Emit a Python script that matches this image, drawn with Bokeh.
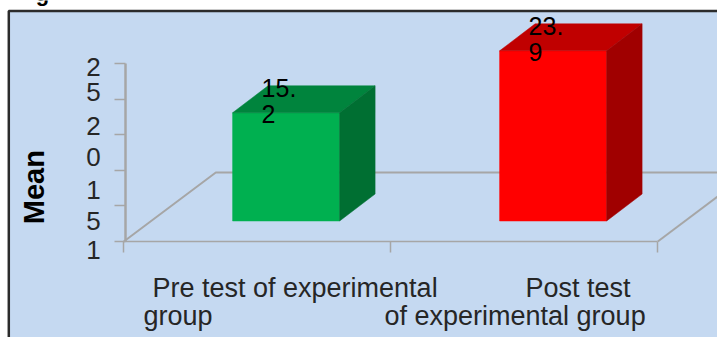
from bokeh.plotting import figure
from bokeh.models import LinearAxis, FixedTicker, Range1d, BoxAnnotation
from bokeh.core.properties import value
from bokeh.embed import file_html
from bokeh.resources import INLINE

categories = ["Pre test of experimental group", "Post test of experimental group"]
values = [15.2, 23.9]
front_colors = ["#00b050", "#ff0000"]
top_colors = ["#00843d", "#c00000"]
side_colors = ["#006f32", "#a00000"]
y_ticks = [0, 5, 10, 15, 20, 25]
x_ticks = [0, 1, 2]
y_label_lines = ["2", "5", "2", "0", "1", "5", "1"]
x_label_lines = ["Pre test of experimental", "group", "Post test", "of experimental group"]

# layout constants (page pixels)
y_label_base = [66.7, 91.7, 125, 156, 189, 220.7, 249]
x_label_left = [152, 143, 525, 384]
x_label_base = [287.7, 315, 287.7, 315]

W, H = 717, 337
BG = "#c5d9f1"
GRAY = "#a6a6a6"
TXT = "#262626"
FONT = value("Liberation Sans")
PX_X, PX_Y = 267.0, 7.12
X0, Y0 = 123.3, 241.0

def dx(px): return px / PX_X
def dy(px): return px / PX_Y
def fx(px): return (px - X0) / PX_X
def fy(py): return (Y0 - py) / PX_Y

p = figure(width=W, height=H, output_backend="svg", toolbar_location=None,
           x_range=Range1d(fx(0), fx(W)), y_range=Range1d(fy(H), fy(0)),
           x_axis_type=None, y_axis_type=None, min_border=0,
           background_fill_color="#ffffff", border_fill_color="#ffffff", outline_line_color=None)
p.grid.visible = False

# panel with dark edge, running off the right and bottom of the page
p.add_layout(BoxAnnotation(left=8.3, right=W + 50, top=10.5, bottom=H + 50, left_units="canvas", right_units="canvas",
                           top_units="canvas", bottom_units="canvas", fill_color=BG, fill_alpha=1,
                           line_color="#2b2b2b", line_alpha=1, line_width=2.5, level="underlay", editable=False))

xa = LinearAxis(ticker=FixedTicker(ticks=x_ticks), bounds=(0, 2), fixed_location=0, axis_line_color=GRAY,
                axis_line_width=1.5, major_tick_line_color=GRAY, major_tick_line_width=1.5,
                major_tick_in=11, major_tick_out=0, minor_tick_line_color=None,
                major_label_overrides={t: "" for t in x_ticks}, major_label_standoff=0)
ya = LinearAxis(ticker=FixedTicker(ticks=y_ticks), bounds=(0, 25), fixed_location=dx(1.7), axis_line_color=GRAY,
                axis_line_width=2.5, major_tick_line_color=GRAY, major_tick_line_width=1.5,
                major_tick_in=11, major_tick_out=0, minor_tick_line_color=None,
                major_label_overrides={t: "" for t in y_ticks}, major_label_standoff=0)
p.add_layout(xa, "above")
p.add_layout(ya, "right")

# floor
fd_x, fd_y = dx(92), dy(69)
p.line([0, fd_x, fx(W)], [0, fd_y, fd_y], line_color=GRAY, line_width=2)
p.line([2, 2 + fd_x], [0, fd_y], line_color=GRAY, line_width=2)

# 3D bars
half, off, depth_x, depth_y, base = dx(53.5), dx(28.8), dx(35.5), dy(27), dy(20.5)
for i, v in enumerate(values):
    c = i + 0.5 + off
    l, r = c - half, c + half
    b, t = base, base + v
    p.patch([l, r, r, l], [b, b, t, t], fill_color=front_colors[i], line_color=front_colors[i], line_width=0.5)
    p.patch([l, r, r + depth_x, l + depth_x], [t, t, t + depth_y, t + depth_y],
            fill_color=top_colors[i], line_color=top_colors[i], line_width=0.5)
    p.patch([r, r + depth_x, r + depth_x, r], [b, b + depth_y, t + depth_y, t],
            fill_color=side_colors[i], line_color=side_colors[i], line_width=0.5)
    whole, frac = f"{v:.1f}".split(".")
    p.text([c - dx(24.5)] * 2, [t + dy(25), t - dy(1)], text=[whole + ".", frac], text_font=FONT,
           text_font_size="25px", text_color="#000000", text_align="left", text_baseline="alphabetic")

p.text([fx(93)] * len(y_label_lines), [fy(b) for b in y_label_base], text=y_label_lines, text_font=FONT,
       text_font_size="26px", text_color=TXT, text_align="center", text_baseline="alphabetic")
p.text([fx(a) for a in x_label_left], [fy(b) for b in x_label_base], text=x_label_lines, text_font=FONT,
       text_font_size="27px", text_color=TXT, text_align="left", text_baseline="alphabetic")
p.text([fx(33)], [fy(186.7)], text=["Mean"], text_font=FONT, text_font_size="29px", text_font_style="bold",
       text_color="#000000", angle=90, angle_units="deg", text_align="center", text_baseline="middle")
# bottom of the cut-off heading above the panel
p.text([fx(42)], [fy(-7)], text=["g"], text_font=FONT, text_font_size="22px", text_font_style="bold",
       text_color="#000000", text_align="center", text_baseline="alphabetic")

open("out.html", "w").write(file_html(p, INLINE))
